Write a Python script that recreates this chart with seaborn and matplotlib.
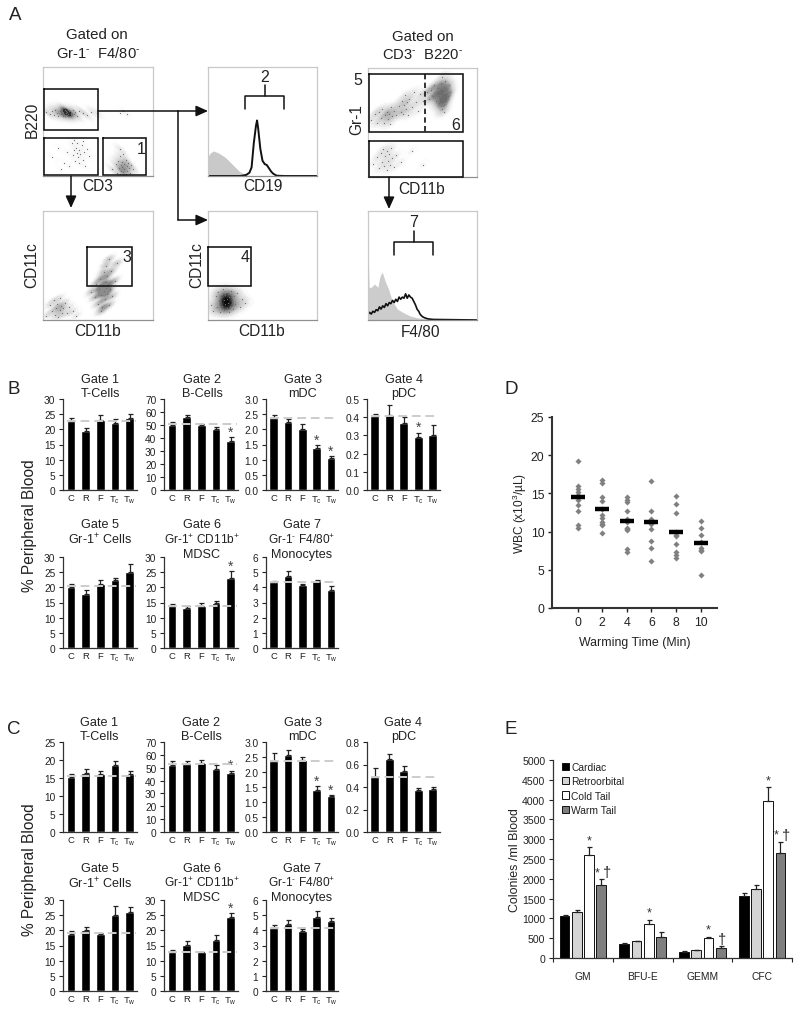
import matplotlib
matplotlib.use("Agg")
import matplotlib.pyplot as plt
from matplotlib.colors import LinearSegmentedColormap
import seaborn as sns
import pandas as pd

sns.set_theme(style="white")
plt.rcParams.update({
    "font.family": ["Liberation Sans", "DejaVu Sans"],
    "mathtext.fontset": "custom", "mathtext.rm": "Liberation Sans",
    "mathtext.it": "Liberation Sans", "mathtext.bf": "Liberation Sans",
    "mathtext.default": "regular", "text.color": "#222222",
    "axes.labelcolor": "#222222", "xtick.color": "#222222", "ytick.color": "#222222",
})

# ---------- data ----------
sites = ["C", "R", "F", "T$_{c}$", "T$_{w}$"]

b1_vals = [22.7, 19.5, 23.2, 22.0, 23.9]; b1_err = [1.2, 1.0, 1.6, 1.3, 1.3]; b1_ref = 22.7
b2_vals = [50, 56.5, 50, 47, 38]; b2_err = [2, 1.3, 0.8, 1.5, 2.8]; b2_ref = 50.5
b3_vals = [2.37, 2.25, 2.02, 1.38, 1.07]; b3_err = [0.1, 0.1, 0.15, 0.11, 0.04]; b3_ref = 2.37
b4_vals = [0.405, 0.41, 0.37, 0.29, 0.30]; b4_err = [0.015, 0.055, 0.03, 0.025, 0.055]; b4_ref = 0.405
b5_vals = [20.2, 17.8, 21.2, 22.3, 25]; b5_err = [1, 1.3, 1.2, 0.7, 2.6]; b5_ref = 20.3
b6_vals = [13.7, 13.1, 14, 15, 23]; b6_err = [0.8, 0.8, 1, 0.5, 2.3]; b6_ref = 13.8
b7_vals = [4.35, 4.75, 4.15, 4.4, 3.8]; b7_err = [0.08, 0.3, 0.1, 0.1, 0.3]; b7_ref = 4.35

c1_vals = [15.3, 16.3, 16.1, 18.7, 16.1]; c1_err = [0.9, 1.1, 0.8, 1.1, 0.9]; c1_ref = 15.5
c2_vals = [52.5, 53, 54, 49, 46]; c2_err = [2.5, 2.3, 2, 3, 1.7]; c2_ref = 53
c3_vals = [2.37, 2.57, 2.4, 1.4, 1.2]; c3_err = [0.27, 0.15, 0.1, 0.13, 0.03]; c3_ref = 2.38
c4_vals = [0.49, 0.645, 0.54, 0.37, 0.38]; c4_err = [0.08, 0.045, 0.05, 0.02, 0.02]; c4_ref = 0.49
c5_vals = [18.9, 20, 18.8, 25, 26.1]; c5_err = [1, 1.2, 0.2, 3, 1.5]; c5_ref = 19
c6_vals = [12.8, 15.1, 12.7, 16.8, 24.3]; c6_err = [0.8, 1.3, 0.2, 1.5, 1.4]; c6_ref = 13
c7_vals = [4.15, 4.4, 3.95, 4.9, 4.6]; c7_err = [0.2, 0.3, 0.15, 0.4, 0.2]; c7_ref = 4.15

d_times = ["0", "2", "4", "6", "8", "10"]
d_points = [
    [19.2, 16, 15.6, 15.2, 14.8, 14.5, 14.1, 13.5, 12.7, 10.8, 10.5],
    [16.7, 16.4, 14.5, 14, 12.9, 12.2, 11.8, 11.2, 11, 10.8, 9.8],
    [14.5, 14.2, 13.9, 12.7, 11.6, 11.3, 10.5, 10.3, 10.2, 7.7, 7.3],
    [16.6, 12.7, 11.6, 11.3, 11.0, 10.4, 8.8, 7.8, 6.2],
    [14.7, 13.6, 12.4, 9.9, 9.6, 9.4, 8.4, 7.3, 6.9, 6.5],
    [11.4, 10.5, 9.6, 8.6, 7.9, 7.6, 7.4, 4.3],
]
d_means = [14.5, 13, 11.4, 11.2, 10, 8.5]

e_groups = ["GM", "BFU-E", "GEMM", "CFC"]
e_methods = ["Cardiac", "Retroorbital", "Cold Tail", "Warm Tail"]
e_colors = ["#000000", "#d4d4d4", "#ffffff", "#7f7f7f"]
e_cardiac = [1060, 360, 155, 1570]; e_cardiac_err = [20, 15, 10, 65]
e_retro = [1150, 420, 190, 1730]; e_retro_err = [60, 15, 8, 110]
e_cold = [2610, 860, 500, 3970]; e_cold_err = [190, 110, 40, 340]
e_warm = [1840, 540, 255, 2650]; e_warm_err = [150, 110, 45, 290]

# histogram traces (percent of panel)
h2_iso_x = [0, 2, 5, 10, 16, 23, 29, 35, 40, 100]
h2_iso_y = [18, 21, 23, 21, 17, 10, 4, 1, 0.3, 0]
h2_x = [0, 30, 35, 38, 40, 42, 44, 45, 46, 48, 50, 52, 54, 56, 58, 60, 63, 70, 100]
h2_y = [0, 0, 1, 3, 8, 30, 46, 51, 44, 25, 14, 11, 10, 7, 4, 2, 0.3, 0, 0]
h7_iso_x = [0, 0.5, 1, 3, 6, 9, 11, 13, 16, 19, 22, 27, 32, 38, 45, 55, 100]
h7_iso_y = [52, 50, 30, 30, 33, 30, 40, 44, 35, 28, 18, 10, 7, 4, 2, 1, 0.5]
h7_x = [0, 1.5, 3, 4.5, 6, 7.5, 9, 10.5, 12, 13.5, 15, 16.5, 18, 19.5, 21, 22.5, 24, 25.5, 27, 28.5,
        30, 31.5, 33, 34.5, 36, 37.5, 39, 40.5, 42, 43.5, 45, 46.5, 48, 50, 52, 55, 60, 100]
h7_y = [5, 7, 5.5, 8, 7, 9.5, 8.5, 12, 10, 13, 11.5, 15, 13, 16, 15, 18, 16, 19, 17, 21,
        19, 21, 20, 24, 20, 23, 21, 20, 17, 14, 10, 8, 5, 3, 2, 1, 0.5, 0]

# flow-cytometry dots (percent of panel)
p1_b_x = [3, 6, 8, 10, 11, 13, 14, 15, 16, 17, 18, 18, 19, 20, 20, 21, 21, 22, 22, 23, 24, 24, 25, 26, 27, 28, 29, 31, 33, 36, 40, 44, 49]
p1_b_y = [59, 57, 60, 56, 61, 58, 55, 60, 57, 62, 55, 59, 57, 61, 55, 58, 60, 56, 59, 57, 60, 55, 58, 56, 61, 57, 59, 55, 60, 58, 56, 59, 58]
p1_ll_x = [8, 14, 19, 22, 24, 26, 27, 28, 29, 30, 31, 31, 32, 33, 33, 34, 35, 36, 37, 38, 40, 42, 16, 28, 36, 70, 73, 76]
p1_ll_y = [17, 26, 12, 22, 9, 30, 19, 24, 14, 26, 21, 30, 17, 24, 12, 20, 28, 15, 22, 9, 25, 18, 6, 33, 32, 58, 60, 57]
p1_t_x = [63, 66, 67, 68, 69, 70, 70, 71, 71, 72, 72, 73, 73, 74, 74, 75, 75, 76, 76, 77, 78, 79, 80, 82, 70, 73]
p1_t_y = [6, 11, 3, 14, 7, 18, 2, 10, 5, 13, 8, 20, 4, 11, 6, 15, 2, 9, 5, 12, 7, 3, 10, 6, 25, 1]
p3_m_x = [44, 47, 48, 50, 51, 52, 53, 54, 54, 55, 55, 56, 56, 57, 57, 58, 58, 59, 60, 61, 62, 63, 65, 67, 53, 60]
p3_m_y = [26, 21, 33, 15, 28, 38, 23, 12, 31, 27, 44, 19, 35, 29, 50, 24, 40, 33, 14, 28, 45, 22, 36, 52, 8, 56]
p3_f_x = [3, 6, 8, 10, 11, 12, 13, 14, 15, 15, 16, 17, 18, 20, 22, 24, 27, 30]
p3_f_y = [4, 14, 8, 18, 5, 11, 15, 3, 9, 20, 13, 6, 11, 16, 6, 12, 8, 4]
p4_d_x = [3, 5, 7, 8, 9, 10, 11, 12, 13, 14, 15, 15, 16, 16, 17, 17, 18, 18, 19, 19, 20, 21, 22, 23, 24, 25, 27, 29, 31, 34]
p4_d_y = [14, 8, 22, 12, 26, 17, 7, 21, 13, 28, 18, 9, 23, 15, 11, 19, 25, 16, 7, 21, 13, 27, 17, 10, 22, 15, 25, 12, 19, 16]
p5_a_x = [3, 6, 8, 10, 12, 13, 15, 16, 17, 18, 19, 20, 21, 22, 24, 26, 28, 30, 31, 32, 33, 34, 35, 36, 37, 38, 40, 42, 44, 46, 48, 50]
p5_a_y = [52, 58, 50, 60, 54, 62, 50, 57, 60, 53, 58, 49, 64, 56, 61, 57, 65, 60, 70, 58, 66, 75, 62, 69, 57, 72, 64, 78, 69, 61, 76, 70]
p5_r_x = [54, 56, 58, 60, 61, 62, 63, 64, 65, 65, 66, 67, 67, 68, 68, 69, 69, 70, 70, 71, 71, 72, 72, 73, 74, 75, 70, 68]
p5_r_y = [78, 72, 80, 74, 84, 70, 76, 82, 68, 74, 79, 66, 85, 72, 62, 78, 70, 83, 66, 75, 88, 70, 80, 74, 84, 78, 60, 92]
p5_l_x = [5, 8, 10, 12, 13, 14, 15, 16, 17, 17, 18, 19, 20, 21, 22, 24, 26, 30, 40, 50]
p5_l_y = [12, 18, 8, 22, 14, 26, 10, 19, 6, 24, 15, 21, 11, 27, 17, 9, 20, 14, 24, 11]

# ---------- helpers ----------
W, H = 800, 1012
fig = plt.figure(figsize=(W / 100, H / 100), dpi=100, facecolor="white")

def axes_px(left, top, right, bottom):
    return fig.add_axes([left / W, 1 - bottom / H, (right - left) / W, (bottom - top) / H])

def small_bars(left, top, right, bottom, vals, err, ref, ymax, step, stars=(), fmt="{:g}", star_gap=0.06):
    ax = axes_px(left, top, right, bottom)
    sns.barplot(x=sites, y=vals, color="black", width=0.6, saturation=1, ax=ax)
    ax.errorbar(range(5), vals, yerr=[[0] * 5, err], fmt="none", ecolor="#222222",
                elinewidth=0.9, capsize=1.8, capthick=0.9)
    ax.plot([-0.25, 4.45], [ref, ref], color="#cccccc", lw=1.4, dashes=(4.5, 2.5), zorder=5)
    ax.set_xlim(-0.54, 4.5)
    ax.set_ylim(0, ymax)
    ticks = [i * step for i in range(int(round(ymax / step)) + 1)]
    ax.set_yticks(ticks)
    ax.set_yticklabels([fmt.format(t) for t in ticks])
    ax.tick_params(axis="y", length=3, width=0.8, pad=2.5, labelsize=7.3, left=True)
    ax.tick_params(axis="x", length=0, pad=2.5, labelsize=6.8)
    ax.set_xlabel(""); ax.set_ylabel("")
    sns.despine(ax=ax)
    for s in ("left", "bottom"):
        ax.spines[s].set_color("#333333"); ax.spines[s].set_linewidth(0.9)
    for i in stars:
        ax.text(i, vals[i] + err[i] + ymax * star_gap, "*", ha="center", va="center",
                fontsize=10, color="#444444")
    return ax

def flow_panel(left, top, right, bottom):
    ax = axes_px(left, top, right, bottom)
    ax.set_xlim(0, 100); ax.set_ylim(0, 100)
    ax.set_xticks([]); ax.set_yticks([])
    for s in ax.spines.values():
        s.set_color("#c8c8c8"); s.set_linewidth(0.9)
    ax.spines["bottom"].set_color("#909090")
    return ax

def clouds(ax, parts, darkest="#000000", bw=0.3, dot=0.8, dot_color="#707070"):
    xs, ys, ws = [], [], []
    for px, py, w in parts:
        xs += px; ys += py; ws += [w] * len(px)
    cmap = LinearSegmentedColormap.from_list("c", ["#ffffff", "#d4d4d4", "#8a8a8a", darkest])
    sns.kdeplot(x=xs, y=ys, weights=ws, fill=True, levels=20, thresh=0.02, cmap=cmap, bw_adjust=bw,
                gridsize=120, antialiased=False, ax=ax)
    sns.scatterplot(x=xs, y=ys, s=dot, color=dot_color, linewidth=0, ax=ax)
    ax.set_xlim(0, 100); ax.set_ylim(0, 100)
    ax.set_xlabel(""); ax.set_ylabel("")

# ---------- panel A: flow plots ----------
p1 = flow_panel(43, 68, 153, 177)
clouds(p1, [(p1_b_x, p1_b_y, 3), (p1_ll_x, p1_ll_y, 0.8), (p1_t_x, p1_t_y, 3)], "#0a0a0a", 0.28)

p2 = flow_panel(208, 68, 317, 177)
p2.fill_between(h2_iso_x, h2_iso_y, color="#c9c9c9", lw=0)
sns.lineplot(x=h2_x, y=h2_y, color="#111111", lw=1.4, ax=p2)

p3 = flow_panel(43, 212, 153, 321)
clouds(p3, [(p3_m_x, p3_m_y, 1), (p3_f_x, p3_f_y, 0.5)], "#8c8c8c", 0.35)

p4 = flow_panel(208, 212, 317, 321)
clouds(p4, [(p4_d_x, p4_d_y, 1)], "#000000", 1.0)

p5 = flow_panel(368, 69, 477, 178)
clouds(p5, [(p5_a_x, p5_a_y, 0.9), (p5_r_x, p5_r_y, 1.4), (p5_l_x, p5_l_y, 0.6)], "#666666", 0.35)

p7 = flow_panel(368, 212, 477, 321)
p7.fill_between(h7_iso_x, h7_iso_y, color="#cccccc", lw=0)
sns.lineplot(x=h7_x, y=h7_y, color="#111111", lw=1.2, ax=p7)
for ax_ in (p2, p7):
    ax_.set_xlim(0, 100); ax_.set_ylim(0, 100)

# ---------- panels B, C ----------
def row_set(y1t, y1b, y2t, y2b, spec):
    cols = [(63, 137), (164, 238), (266, 338), (367, 440)]
    for i, (v, e, r, m, st, stars, fmt) in enumerate(spec):
        if i < 4:
            t, b = y1t, y1b
            c = cols[i]
        else:
            t, b = y2t, y2b
            c = cols[i - 4]
        small_bars(c[0], t, c[1], b, v, e, r, m, st, stars, fmt)

row_set(400, 491, 558, 649, [
    (b1_vals, b1_err, b1_ref, 30, 5, (), "{:g}"),
    (b2_vals, b2_err, b2_ref, 70, 10, (4,), "{:g}"),
    (b3_vals, b3_err, b3_ref, 3, 0.5, (3, 4), "{:.1f}"),
    (b4_vals, b4_err, b4_ref, 0.5, 0.1, (3,), "{:.1f}"),
    (b5_vals, b5_err, b5_ref, 30, 5, (), "{:g}"),
    (b6_vals, b6_err, b6_ref, 30, 5, (4,), "{:g}"),
    (b7_vals, b7_err, b7_ref, 6, 1, (), "{:g}"),
])
row_set(743, 833, 901, 992, [
    (c1_vals, c1_err, c1_ref, 25, 5, (), "{:g}"),
    (c2_vals, c2_err, c2_ref, 70, 10, (4,), "{:g}"),
    (c3_vals, c3_err, c3_ref, 3, 0.5, (3, 4), "{:.1f}"),
    (c4_vals, c4_err, c4_ref, 0.8, 0.2, (), "{:.1f}"),
    (c5_vals, c5_err, c5_ref, 30, 5, (), "{:g}"),
    (c6_vals, c6_err, c6_ref, 30, 5, (4,), "{:g}"),
    (c7_vals, c7_err, c7_ref, 6, 1, (), "{:g}"),
])

# ---------- panel D ----------
axd = axes_px(552, 418, 717, 609)
d_long = pd.DataFrame({
    "time": [t for t, pts in zip(d_times, d_points) for _ in pts],
    "wbc": [p for pts in d_points for p in pts],
})
sns.stripplot(data=d_long, x="time", y="wbc", order=d_times, color="#808080", marker="D",
              size=3.1, jitter=False, linewidth=0, ax=axd)
sns.scatterplot(x=d_times, y=d_means, marker="_", s=110, color="black", linewidth=3.2, zorder=5, ax=axd)
axd.set_xlim(-1.04, 5.67); axd.set_ylim(0, 25)
axd.set_yticks([0, 5, 10, 15, 20, 25])
axd.tick_params(axis="both", length=3, width=1, labelsize=8.8, pad=2.5, bottom=True, left=True)
axd.set_xlabel("Warming Time (Min)", fontsize=8.9, labelpad=6)
axd.set_ylabel("WBC (x10$^{3}$/µL)", fontsize=8.6, labelpad=1.5)
sns.despine(ax=axd)
for s in ("left", "bottom"):
    axd.spines[s].set_color("#333333"); axd.spines[s].set_linewidth(1.5)

# ---------- panel E ----------
axe = axes_px(553, 761, 792, 959)
e_series = [e_cardiac, e_retro, e_cold, e_warm]
e_errs = [e_cardiac_err, e_retro_err, e_cold_err, e_warm_err]
e_long = pd.DataFrame({
    "group": e_groups * 4,
    "method": [m for m in e_methods for _ in e_groups],
    "value": [v for s in e_series for v in s],
})
sns.barplot(data=e_long, x="group", y="value", hue="method", order=e_groups, hue_order=e_methods,
            palette=e_colors, saturation=1, width=0.82, gap=0.2, edgecolor="#111111", linewidth=0.7, ax=axe)
centers = {}
for cont, err, m in zip(axe.containers, e_errs, e_methods):
    xs = [b.get_x() + b.get_width() / 2 for b in cont]
    ys = [b.get_height() for b in cont]
    axe.errorbar(xs, ys, yerr=[[0] * 4, err], fmt="none", ecolor="#222222", elinewidth=0.9,
                 capsize=1.8, capthick=0.9)
    centers[m] = (xs, ys)
for idx in range(4):
    x, y = centers["Cold Tail"][0][idx], centers["Cold Tail"][1][idx] + e_cold_err[idx]
    axe.text(x, y + 170, "*", ha="center", va="center", fontsize=9, color="#333333")
for idx in (0, 3):
    x, y = centers["Warm Tail"][0][idx], centers["Warm Tail"][1][idx] + e_warm_err[idx]
    axe.text(x - 0.075, y + 170, "*", ha="center", va="center", fontsize=9, color="#333333")
    axe.text(x + 0.09, y + 170, "†", ha="center", va="center", fontsize=10.5, color="#222222")
x, y = centers["Warm Tail"][0][2], centers["Warm Tail"][1][2] + e_warm_err[2]
axe.text(x + 0.03, y + 170, "†", ha="center", va="center", fontsize=10.5, color="#222222")
axe.set_xlim(-0.5, 3.5); axe.set_ylim(0, 5000)
axe.set_yticks(range(0, 5001, 500))
axe.set_xticks([-0.5, 0.5, 1.5, 2.5, 3.5], minor=True)
axe.tick_params(axis="x", which="major", length=0, labelsize=7.4, pad=9.5)
axe.tick_params(axis="x", which="minor", length=3, width=0.8, bottom=True)
axe.tick_params(axis="y", length=3, width=0.8, labelsize=7.6, pad=2.5, left=True)
axe.set_xlabel(""); axe.set_ylabel("Colonies /ml Blood", fontsize=8.9, labelpad=1)
sns.despine(ax=axe)
for s in ("left", "bottom"):
    axe.spines[s].set_color("#333333"); axe.spines[s].set_linewidth(0.9)
axe.legend(frameon=False, fontsize=7.4, loc="upper left", bbox_to_anchor=(0.035, 0.995), borderpad=0.1,
           handlelength=0.62, handleheight=0.7, handletextpad=0.25, labelspacing=0.42, borderaxespad=0)

# ---------- overlay: gates, arrows and text ----------
ov = fig.add_axes([0, 0, 1, 1], zorder=20)
ov.set_xlim(0, W); ov.set_ylim(H, 0); ov.axis("off"); ov.patch.set_alpha(0)

def box(l, t, r, b):
    ov.plot([l, r, r, l, l], [t, t, b, b, t], color="#111111", lw=1.15, solid_joinstyle="miter")

def arrow(x0, y0, x1, y1):
    ov.annotate("", xy=(x1, y1), xytext=(x0, y0),
                arrowprops=dict(arrowstyle="-|>,head_width=0.27,head_length=0.6", color="#111111", lw=1.1,
                                shrinkA=0, shrinkB=0))

def bracket(l, r, t, b, stem):
    mid = (l + r) / 2
    ov.plot([l, l, r, r], [b, t, t, b], color="#111111", lw=1.1)
    ov.plot([mid, mid], [t, stem], color="#111111", lw=1.1)

for b in [(44, 90, 98, 131), (44, 139, 98, 176), (103, 139, 146, 176), (87, 248, 132, 287),
          (208, 248, 251, 287), (369, 75, 463, 133), (369, 142, 463, 178)]:
    box(*b)
ov.plot([425, 425], [75, 133], color="#111111", lw=1.2, dashes=(3.2, 2))
bracket(245, 284, 97, 110, 86)
bracket(394, 433, 243, 256, 232)
ov.plot([98, 178], [112, 112], color="#111111", lw=1.1)
arrow(178, 112, 208, 112)
ov.plot([178, 178], [112, 221], color="#111111", lw=1.1)
arrow(178, 221, 208, 221)
arrow(71, 177, 71, 209)
arrow(389, 178, 389, 210)

def t(x, y, s, size=11.2, rot=0, **kw):
    ov.text(x, y, s, fontsize=size, rotation=rot, ha="center", va="center", **kw)

for x, y, s in [(15, 15, "A"), (14, 390, "B"), (14, 729, "C"), (511, 390, "D"), (511, 729, "E")]:
    t(x, y, s, 13.5)

MINUS = "\u2010"
t(97, 35, "Gated on", 10.8); t(98, 53, f"Gr-1$^{{{MINUS}}}$  F4/80$^{{{MINUS}}}$", 10.6)
t(423, 37, "Gated on", 10.8); t(423, 55, f"CD3$^{{{MINUS}}}$  B220$^{{{MINUS}}}$", 10.6)
t(32, 120, "B220", rot=90); t(98, 186, "CD3")
t(263, 186, "CD19"); t(32, 265, "CD11c", rot=90); t(98, 331, "CD11b")
t(197, 265, "CD11c", rot=90); t(262, 331, "CD11b")
t(357, 120, "Gr-1", rot=90); t(422, 189, "CD11b"); t(421, 332, "F4/80")
for x, y, s in [(141, 149, "1"), (265, 77, "2"), (127, 257, "3"), (245, 257, "4"),
                (358, 80, "5"), (456, 125, "6"), (414, 222, "7")]:
    t(x, y, s, 11.5)

# gate titles
tsize = 9.1
for x, a, b_ in [(100, "Gate 1", "T-Cells"), (202, "Gate 2", "B-Cells"), (303, "Gate 3", "mDC"), (404, "Gate 4", "pDC")]:
    t(x, 379.5, a, tsize); t(x, 394, b_, tsize)
    t(x - 0.5, 722.5, a, tsize); t(x - 0.5, 737, b_, tsize)
for y1, y2, y3 in [(525.5, 540, 555), (869, 883.5, 898)]:
    t(100, y1, "Gate 5", tsize); t(100, y2, "Gr-1$^{+}$ Cells", tsize)
    t(202, y1, "Gate 6", tsize); t(202, y2, "Gr-1$^{+}$ CD11b$^{+}$", 8.6); t(202, y3, "MDSC", tsize)
    t(302, y1, "Gate 7", tsize); t(302, y2, f"Gr-1$^{{{MINUS}}}$ F4/80$^{{+}}$", 8.6); t(302, y3, "Monocytes", tsize)
t(30, 526, "% Peripheral Blood", 11.2, rot=90)
t(30, 870, "% Peripheral Blood", 11.2, rot=90)

fig.savefig("out.png", dpi=100, facecolor="white")
